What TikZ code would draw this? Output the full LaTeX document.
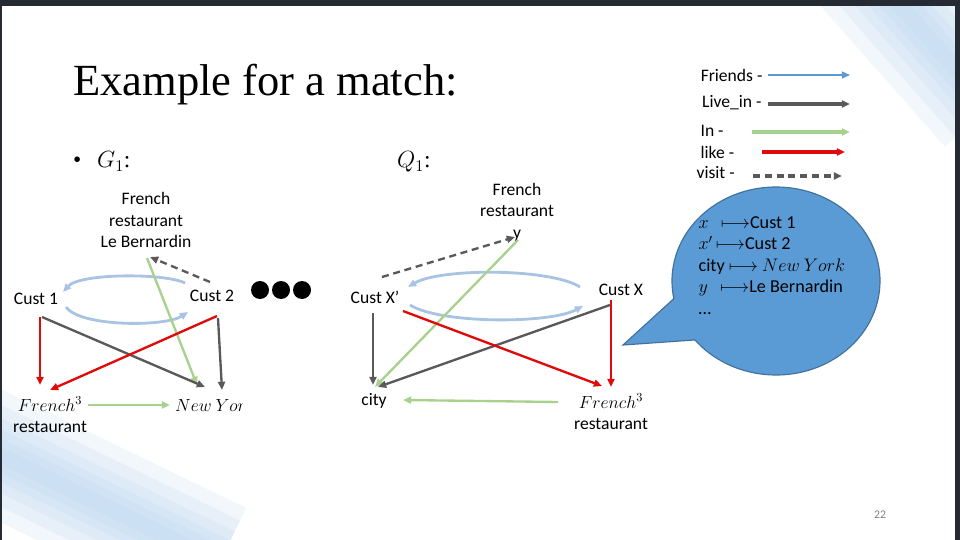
\RequirePackage{fix-cm}
\documentclass[tikz,border=0pt]{standalone}
\usepackage{fontspec}
\setmainfont{Liberation Serif}
\newfontfamily\mtsans{Carlito}
\usepackage{xcolor}
\definecolor{mtframe}{HTML}{262A33}
\definecolor{mtblue}{HTML}{5B9BD5}
\definecolor{mtpale}{HTML}{A9C3E2}
\definecolor{mtgray}{HTML}{595959}
\definecolor{mtgreen}{HTML}{A9D18E}
\definecolor{mtred}{HTML}{E00A0A}
\definecolor{mtedge}{HTML}{41719C}
\definecolor{mtglow}{HTML}{B5D2EE}
\usepackage{tikz}
\usetikzlibrary{arrows.meta,positioning,shapes.callouts,calc}
\tikzset{
  mtlabel/.style={font=\mtsans\fontsize{15}{18.5}\selectfont,align=center,inner sep=2pt},
  mtmath/.style={font=\fontsize{20}{24}\selectfont,inner sep=0pt},
  mthead/.style={-{Triangle[length=7pt,width=6pt]}},
  mtfriends/.style={mthead,draw=mtpale,line width=2.4pt},
  mtlive/.style={mthead,draw=mtgray,line width=2pt},
  mtin/.style={mthead,draw=mtgreen,line width=2pt},
  mtlike/.style={mthead,draw=mtred,line width=2pt},
  mtvisit/.style={mthead,draw=mtgray,line width=2pt,dash pattern=on 6pt off 4pt},
  mtdot/.style={circle,fill=black,minimum size=0.54cm,inner sep=0pt},
  mtbubble/.style={ellipse callout,draw=mtedge,fill=mtblue,line width=1pt,minimum width=6.24cm,minimum height=5.64cm},
  mtglare/.style={fill=mtglow,fill opacity=0.18},
}
\begin{document}
\begin{tikzpicture}[x=0.03cm,y=-0.03cm]
\useasboundingbox (0,0) rectangle (960,540);
% slide background
\begin{scope}
\clip (0,0) rectangle (955,540);
\coordinate (gl1) at (860,-40);
\coordinate (gl2) at (990,107);
\coordinate (gl3) at (-40,436);
\coordinate (gl4) at (220,562);
\foreach \w in {8,16,24,34,46,60}{
  \fill[mtglare] ($(gl1)+(0.749*\w,-0.662*\w)$) -- ($(gl2)+(0.749*\w,-0.662*\w)$)
    -- ($(gl2)+(-0.749*\w,0.662*\w)$) -- ($(gl1)+(-0.749*\w,0.662*\w)$) -- cycle;
  \fill[mtglare] ($(gl3)+(0.437*\w,-0.9*\w)$) -- ($(gl4)+(0.437*\w,-0.9*\w)$)
    -- ($(gl4)+(-0.437*\w,0.9*\w)$) -- ($(gl3)+(-0.437*\w,0.9*\w)$) -- cycle;
}
\end{scope}
\fill[mtframe] (0,0) rectangle (960,6);
\fill[mtframe] (955,0) rectangle (960,540);
\fill[mtframe] (0,0) rectangle (1.5,540);

\node[anchor=base west,inner sep=0pt,font=\fontsize{38}{44}\selectfont] (title) at (73,96) {Example for a match:};
\node[anchor=base west,inner sep=0pt,font=\fontsize{20}{24}\selectfont] (bullet) at (73,168) {\textbullet};
\node[mtmath,anchor=base west] (g1) at (97,168) {$G_1$:};
\node[mtmath,anchor=base west] (q1) at (397,168) {$Q_1$:};

% legend
\node[mtlabel,anchor=east] (lgfr) at (765,75) {Friends -};
\node[mtlabel,anchor=east] (lglive) at (764,103) {Live\_in -};
\node[mtlabel,anchor=west] (lgin) at (698,131) {In -};
\node[mtlabel,anchor=west] (lglike) at (698,152) {like -};
\node[mtlabel,anchor=west] (lgvisit) at (694,173) {visit -};
\coordinate (lgfr-end) at (850,75);
\coordinate (lglive-end) at (850,104);
\coordinate (lgin-end) at (850,132);
\coordinate (lglike-end) at (845,152);
\coordinate (lgvisit-end) at (842,176);
\draw[mthead,draw=mtblue,line width=1.3pt] ($(lgfr.east)+(3,0)$) -- (lgfr-end);
\draw[mthead,draw=mtgray,line width=3pt] ($(lglive.east)+(4,1)$) -- (lglive-end);
\draw[mthead,draw=mtgreen,line width=3pt] ($(lgin.east)+(26,1)$) -- (lgin-end);
\draw[mthead,draw=mtred,line width=3pt] ($(lglike.east)+(25,0)$) -- (lglike-end);
\draw[mthead,draw=mtgray,line width=3pt,dash pattern=on 6pt off 4pt] ($(lgvisit.east)+(16,3)$) -- (lgvisit-end);

% mapping bubble
\node[mtbubble,callout absolute pointer={(623,345)},callout pointer arc=28] (bubble) at (776,281) {};
\node[mtlabel,align=left,anchor=north west,font=\mtsans\fontsize{15.5}{18.3}\selectfont] (map) at (696,214)
  {$x$\enspace\,$\longmapsto$Cust 1\\ $x'$\,$\longmapsto$Cust 2\\ city $\longmapsto$ $New\ York$\\ $y$\enspace\,$\longmapsto$Le Bernardin\\ \dots};

% G1
\node[mtlabel] (lb) at (146,220) {French\\restaurant\\Le Bernardin};
\node[mtlabel] (c1) at (36,299) {Cust 1};
\node[mtlabel] (c2) at (212,296) {Cust 2};
\node[mtlabel] (fr1) at (50,415) {$French^3$\\restaurant};
\begin{scope}
\clip (170,385) rectangle (242,425);
\node[mtlabel,anchor=west,inner sep=0pt] (ny) at (175,405) {$New\ York$};
\end{scope}
\foreach \i/\x in {1/260,2/281,3/302}
  \node[mtdot] (dot\i) at (\x,290) {};
\draw[mtfriends] ($(c2)+(-27,-13)$) .. controls (165,273) and (80,273) .. ($(c1)+(27,-7)$);
\draw[mtfriends] ($(c1)+(30,8)$) .. controls (80,327) and (165,327) .. ($(c2)+(-24,16)$);
\draw[mtvisit] ($(c2)+(-2,-14)$) -- ($(lb)+(4,37)$);
\draw[mtin] ($(lb)+(1,38)$) -- ($(ny.west)+(22,-20)$);
\draw[mtlive] ($(c1)+(6,18)$) -- ($(ny.west)+(30,-18)$);
\draw[mtlive] ($(c2)+(6,22)$) -- ($(ny.west)+(47,-15)$);
\draw[mtlike] ($(c1)+(4,18)$) -- ($(fr1)+(-10,-30)$);
\draw[mtlike] ($(c2)+(5,20)$) -- ($(fr1)+(0,-25)$);
\draw[mtin] ($(fr1)+(38,-10)$) -- ($(ny.west)+(-5,0)$);

% Q1
\node[mtlabel] (y) at (517,212) {French\\restaurant\\y};
\node[mtlabel] (cxp) at (375,297) {Cust X’};
\node[mtlabel] (cx) at (621,290) {Cust X};
\node[mtlabel] (city) at (374,401) {city};
\node[mtlabel] (fr2) at (611,412) {$French^3$\\restaurant};
\draw[mtfriends] ($(cx)+(-41,-3)$) .. controls (550,268) and (440,268) .. ($(cxp)+(33,-10)$);
\draw[mtfriends] ($(cxp)+(35,8)$) .. controls (440,324) and (550,324) .. ($(cx)+(-38,16)$);
\draw[mtvisit] ($(cxp)+(7,-20)$) -- ($(y)+(-2,25)$);
\draw[mtin] ($(y)+(1,28)$) -- ($(city)+(1,-14)$);
\draw[mtlive] ($(cxp)+(-2,16)$) -- ($(city)+(-1,-16)$);
\draw[mtlive] ($(cx)+(-11,15)$) -- ($(city)+(4,-14)$);
\draw[mtlike] ($(cxp)+(28,14)$) -- ($(fr2)+(-9,-26)$);
\draw[mtlike] ($(cx)+(-10,10)$) -- ($(fr2)+(0,-25)$);
\draw[mtin] ($(fr2)+(-53,-10)$) -- ($(city)+(29,-1)$);

\node[font=\mtsans\fontsize{10}{12}\selectfont,text=gray] (page) at (880,515) {22};
\end{tikzpicture}
\end{document}
